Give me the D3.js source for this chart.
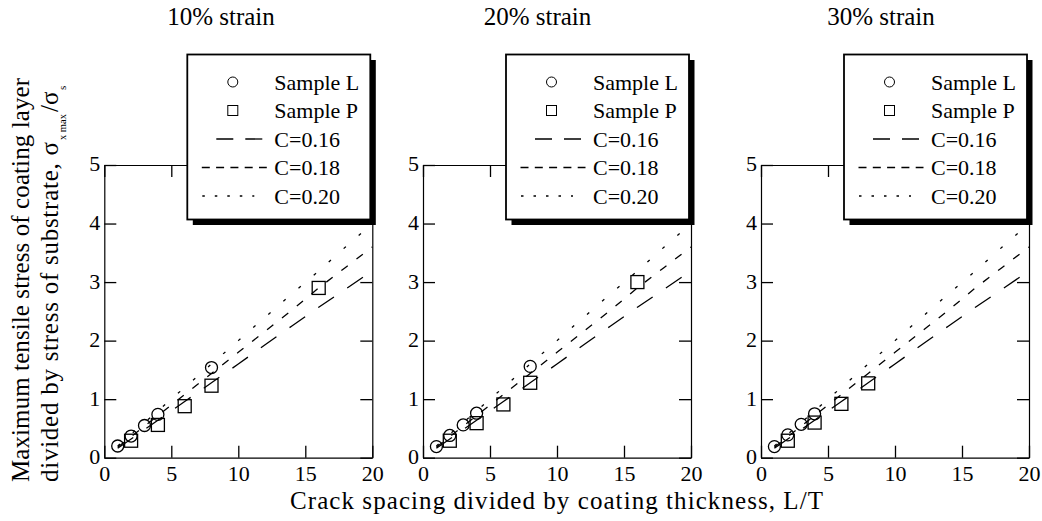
<!DOCTYPE html>
<html><head><meta charset="utf-8">
<script src="https://cdn.jsdelivr.net/npm/d3@7"></script>
<style>
body{margin:0;background:#fff}
svg{display:block}
</style>
</head><body>
<svg id="chart" width="1042" height="521"></svg>
<script>
// ---- data ----
const panelTitles = ["10% strain", "20% strain", "30% strain"];
const xTicks = [0, 5, 10, 15, 20];
const yTicks = [0, 1, 2, 3, 4, 5];
const legendLabels = ["Sample L", "Sample P", "C=0.16", "C=0.18", "C=0.20"];

const sampleLx = [[1, 2, 3, 4, 8], [1, 2, 3, 4, 8], [1, 2, 3, 4]];
const sampleLy = [[0.20, 0.37, 0.55, 0.74, 1.54], [0.19, 0.38, 0.56, 0.76, 1.56], [0.19, 0.39, 0.57, 0.75]];
const samplePx = [[2, 4, 6, 8, 16], [2, 4, 6, 8, 16], [2, 4, 6, 8]];
const samplePy = [[0.29, 0.56, 0.88, 1.23, 2.90], [0.29, 0.59, 0.91, 1.28, 3.00], [0.29, 0.60, 0.92, 1.27]];

const curveX = [1, 2, 4, 6, 8, 10, 12, 14, 16, 18, 20];
const curveC016 = [0.16, 0.32, 0.64, 0.96, 1.28, 1.60, 1.93, 2.25, 2.57, 2.88, 3.19];
const curveC018 = [0.18, 0.36, 0.72, 1.08, 1.44, 1.80, 2.16, 2.52, 2.90, 3.25, 3.60];
const curveC020 = [0.20, 0.40, 0.80, 1.20, 1.60, 2.00, 2.40, 2.80, 3.19, 3.60, 4.00];

// ---- layout ----
const FONT = "'Liberation Serif', 'Times New Roman', Times, serif";
const svg = d3.select("#chart");
const panelLeft = [104.3, 423, 761];
const plotW = 268;
const yTop = 165, yBot = 457.7;
const titleX = [221, 537.5, 881];

const curves = [
  {vals: curveC016, dash: "19,16", legDash: "17,12", l0: 29, l1: 75},
  {vals: curveC018, dash: "8,11", legDash: "8,6.3", l0: 14.5, l1: 79.5},
  {vals: curveC020, dash: "3,17", legDash: "2.5,10", l0: 15, l1: 67}
];

const y = d3.scaleLinear().domain([0, 5]).range([yBot, yTop]);

function styleAxis(g, showLabels) {
  g.attr("font-family", null).attr("font-size", null);
  g.select(".domain").attr("stroke", "#000").attr("stroke-width", 1.2);
  g.selectAll(".tick line").attr("stroke", "#000").attr("stroke-width", 1.3);
  g.selectAll(".tick text").style("font-family", FONT).style("font-size", "22px").attr("fill", "#000");
  if (!showLabels) g.selectAll(".tick text").remove();
}

function txt(sel, size) {
  return sel.style("font-family", FONT).style("font-size", size + "px").attr("fill", "#000");
}

panelLeft.forEach((x0, p) => {
  const x = d3.scaleLinear().domain([0, 20]).range([x0, x0 + plotW]);
  const g = svg.append("g");

  const gB = g.append("g").attr("transform", `translate(0,${yBot})`)
    .call(d3.axisBottom(x).tickValues(xTicks).tickSizeInner(-12).tickSizeOuter(0).tickPadding(6).tickFormat(d3.format("d")));
  styleAxis(gB, true);
  gB.selectAll(".tick text").attr("y", 23).attr("dy", null);

  const gT = g.append("g").attr("transform", `translate(0,${yTop})`)
    .call(d3.axisTop(x).tickValues(xTicks).tickSizeInner(-12).tickSizeOuter(0));
  styleAxis(gT, false);

  const gL = g.append("g").attr("transform", `translate(${x0},0)`)
    .call(d3.axisLeft(y).tickValues(yTicks).tickSizeInner(-12).tickSizeOuter(0).tickPadding(4).tickFormat(d3.format("d")));
  styleAxis(gL, true);
  gL.selectAll(".tick text").attr("dy", "0.27em");

  const gR = g.append("g").attr("transform", `translate(${x0 + plotW},0)`)
    .call(d3.axisRight(y).tickValues(yTicks).tickSizeInner(-12).tickSizeOuter(0));
  styleAxis(gR, false);

  const line = d3.line().x((d, i) => x(curveX[i])).y(d => y(d));
  curves.forEach(c => {
    g.append("path").attr("d", line(c.vals)).attr("fill", "none")
      .attr("stroke", "#000").attr("stroke-width", 1.3).attr("stroke-dasharray", c.dash);
  });

  g.selectAll(null).data(sampleLx[p]).enter().append("circle")
    .attr("cx", d => x(d)).attr("cy", (d, i) => y(sampleLy[p][i])).attr("r", 6)
    .attr("fill", "none").attr("stroke", "#000").attr("stroke-width", 1.3);
  g.selectAll(null).data(samplePx[p]).enter().append("rect")
    .attr("x", d => x(d) - 6.5).attr("y", (d, i) => y(samplePy[p][i]) - 6.5)
    .attr("width", 13).attr("height", 13)
    .attr("fill", "none").attr("stroke", "#000").attr("stroke-width", 1.3);

  const lx = x0 + plotW - 185, ly = 54.5, lw = 183, lh = 165;
  g.append("rect").attr("x", lx + 5.5).attr("y", ly + 5.5).attr("width", lw).attr("height", lh).attr("fill", "#000");
  g.append("rect").attr("x", lx).attr("y", ly).attr("width", lw).attr("height", lh)
    .attr("fill", "#fff").attr("stroke", "#000").attr("stroke-width", 1.8);
  const rowBase = [35, 63.5, 92, 120.5, 149];
  legendLabels.forEach((lab, i) => {
    const by = ly + rowBase[i];
    txt(g.append("text").attr("x", lx + 87).attr("y", by), 22).text(lab);
    const cy = by - 7.5;
    if (i === 0) {
      g.append("circle").attr("cx", lx + 45.5).attr("cy", cy).attr("r", 5)
        .attr("fill", "none").attr("stroke", "#000").attr("stroke-width", 1);
    } else if (i === 1) {
      g.append("rect").attr("x", lx + 40.5).attr("y", cy - 5).attr("width", 10).attr("height", 10)
        .attr("fill", "none").attr("stroke", "#000").attr("stroke-width", 1);
    } else {
      const c = curves[i - 2];
      g.append("line").attr("x1", lx + c.l0).attr("x2", lx + c.l1).attr("y1", cy).attr("y2", cy)
        .attr("stroke", "#000").attr("stroke-width", 1.3).attr("stroke-dasharray", c.legDash);
    }
  });

  txt(svg.append("text").attr("x", titleX[p]).attr("y", 25).attr("text-anchor", "middle"), 25)
    .text(panelTitles[p]);
});

txt(svg.append("text").attr("x", 556.5).attr("y", 509).attr("text-anchor", "middle"), 25)
  .attr("textLength", 533).attr("lengthAdjust", "spacing")
  .text("Crack spacing divided by coating thickness, L/T");

// y axis label (rotated, two lines)
const yl = svg.append("g");
txt(yl.append("text").attr("transform", "translate(29,482) rotate(-90)"), 25)
  .attr("textLength", 404).attr("lengthAdjust", "spacing")
  .text("Maximum tensile stress of coating layer");
txt(yl.append("text").attr("transform", "translate(58,482) rotate(-90)"), 25)
  .attr("textLength", 340).attr("lengthAdjust", "spacing")
  .text("divided by stress of substrate, σ");
txt(yl.append("text").attr("transform", "translate(66,140) rotate(-90)"), 10.5)
  .text("x max");
txt(yl.append("text").attr("transform", "translate(58,112) rotate(-90)"), 25)
  .text("/σ");
txt(yl.append("text").attr("transform", "translate(66,90) rotate(-90)"), 11)
  .text("s");
</script>
</body></html>
